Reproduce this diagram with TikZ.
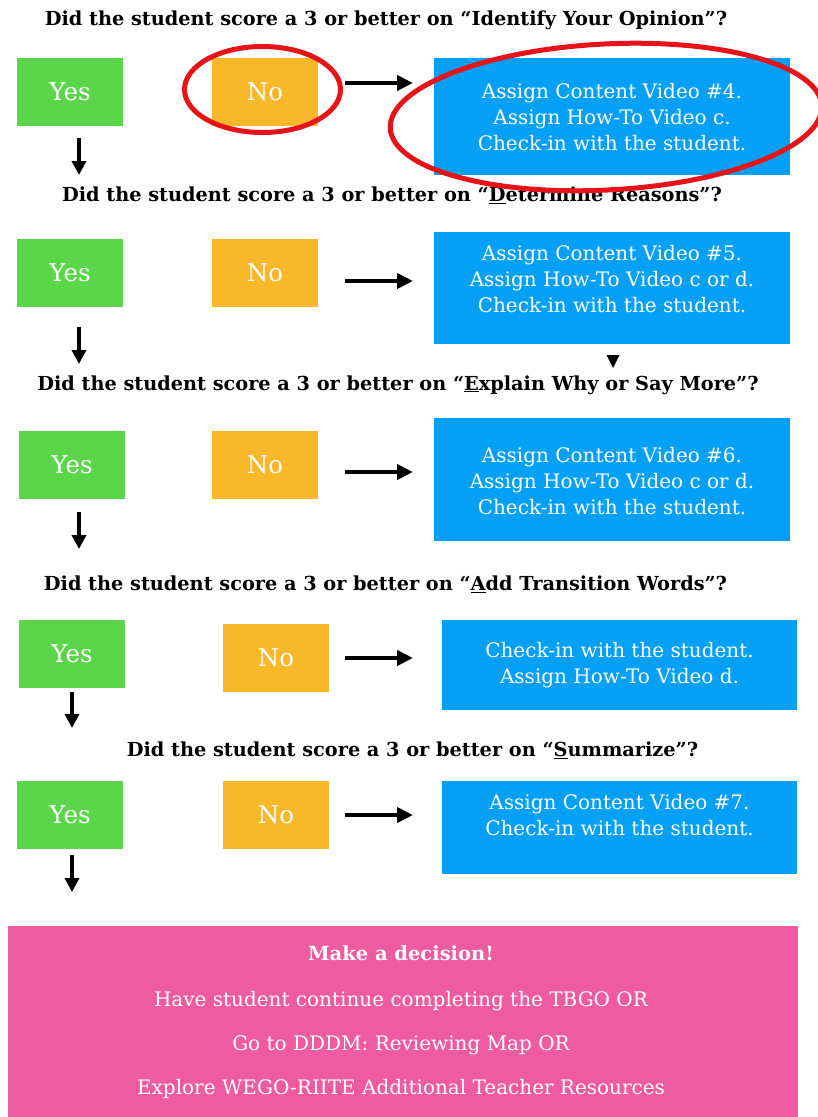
\documentclass[tikz,border=0pt]{standalone}
\usepackage{fontspec}
\setmainfont{DejaVu Serif}
\usetikzlibrary{arrows.meta,shapes.geometric}
\definecolor{yesgreen}{RGB}{91,214,74}
\definecolor{noorange}{RGB}{249,184,42}
\definecolor{actblue}{RGB}{4,160,246}
\definecolor{finalpink}{RGB}{239,91,161}
\definecolor{ringred}{RGB}{230,20,25}
\begin{document}
\begin{tikzpicture}[x=1pt,y=-1pt,
  yesbox/.style={fill=yesgreen, minimum width=106pt, minimum height=68pt, inner sep=0pt, text=white, font=\fontsize{24.5}{28}\selectfont},
  nobox/.style={fill=noorange, minimum width=106pt, minimum height=68pt, inner sep=0pt, text=white, font=\fontsize{24.5}{28}\selectfont},
  actbox/.style={fill=actblue, inner sep=0pt},
  acttext/.style={text=white, align=center, inner sep=0pt, font=\fontsize{20}{26}\selectfont},
  question/.style={inner sep=0pt, font=\bfseries\fontsize{19.3}{22}\selectfont},
  finaltext/.style={text=white, inner sep=0pt, font=\fontsize{20}{24}\selectfont},
  flowarrow/.style={line width=4pt, -{Triangle[length=16pt,width=15pt]}},
  downarrow/.style={line width=3.5pt, -{Triangle[length=14pt,width=14pt]}},
  ring/.style={draw=ringred, line width=5pt, ellipse, inner sep=0pt}
]
\useasboundingbox (0,0) rectangle (817,1117);
\fill[white] (0,0) rectangle (817,1117);

% questions
\node[question] (q1) at (386,20) {Did the student score a 3 or better on “Identify Your Opinion”?};
\node[question] (q2) at (392,195) {Did the student score a 3 or better on “\underline{D}etermine Reasons”?};
\node[question] (q3) at (398,385) {Did the student score a 3 or better on “\underline{E}xplain Why or Say More”?};
\node[question] (q4) at (385.5,584) {Did the student score a 3 or better on “\underline{A}dd Transition Words”?};
\node[question] (q5) at (412.5,750) {Did the student score a 3 or better on “\underline{S}ummarize”?};

% row 1
\node[yesbox] (yes1) at (70,92) {Yes};
\node[nobox] (no1) at (265,92) {No};
\node[actbox, minimum width=356pt, minimum height=117pt] (act1) at (612,116.5) {};
\node[acttext] (act1t) at (612,117.5) {Assign Content Video \#4.\\Assign How-To Video c.\\Check-in with the student.};
% row 2
\node[yesbox] (yes2) at (70,273) {Yes};
\node[nobox] (no2) at (265,273) {No};
\node[actbox, minimum width=356pt, minimum height=112pt] (act2) at (612,288) {};
\node[acttext] (act2t) at (612,279) {Assign Content Video \#5.\\Assign How-To Video c or d.\\Check-in with the student.};
% row 3
\node[yesbox] (yes3) at (72,464.5) {Yes};
\node[nobox] (no3) at (265,464.5) {No};
\node[actbox, minimum width=356pt, minimum height=123pt] (act3) at (612,479.5) {};
\node[acttext] (act3t) at (612,481) {Assign Content Video \#6.\\Assign How-To Video c or d.\\Check-in with the student.};
% row 4
\node[yesbox] (yes4) at (72,653.5) {Yes};
\node[nobox] (no4) at (276,658) {No};
\node[actbox, minimum width=355pt, minimum height=90pt] (act4) at (619.5,665) {};
\node[acttext] (act4t) at (619.5,665.5) {Check-in with the student.\\Assign How-To Video d.};
% row 5
\node[yesbox] (yes5) at (70,814.5) {Yes};
\node[nobox] (no5) at (276,814.5) {No};
\node[actbox, minimum width=355pt, minimum height=93pt] (act5) at (619.5,827.5) {};
\node[acttext] (act5t) at (619.5,815) {Assign Content Video \#7.\\Check-in with the student.};

% final
\node[fill=finalpink, minimum width=790pt, minimum height=191pt, inner sep=0pt] (final) at (403,1021.5) {};
\node[text=white, inner sep=0pt, font=\bfseries\fontsize{19.5}{22}\selectfont] (finalt) at (401,953) {Make a decision!};
\node[finaltext] (opt1) at (401,1001) {Have student continue completing the TBGO OR};
\node[finaltext] (opt2) at (401,1045) {Go to DDDM: Reviewing Map OR};
\node[finaltext] (opt3) at (401,1089) {Explore WEGO-RIITE Additional Teacher Resources};

% horizontal arrows
\coordinate (h1s) at (345,83);  \coordinate (h1e) at (413,83);
\coordinate (h2s) at (345,281); \coordinate (h2e) at (413,281);
\coordinate (h3s) at (345,472); \coordinate (h3e) at (413,472);
\coordinate (h4s) at (345,658); \coordinate (h4e) at (413,658);
\coordinate (h5s) at (345,815); \coordinate (h5e) at (413,815);
\foreach \i in {1,...,5} {\draw[flowarrow] (h\i s) -- (h\i e);}

% down arrows
\coordinate (d1s) at (79,138); \coordinate (d1e) at (79,175);
\coordinate (d2s) at (79,327); \coordinate (d2e) at (79,364);
\coordinate (d3s) at (79,512); \coordinate (d3e) at (79,549);
\coordinate (d4s) at (72,692); \coordinate (d4e) at (72,728);
\coordinate (d5s) at (72,855); \coordinate (d5e) at (72,892);
\foreach \i in {1,...,5} {\draw[downarrow] (d\i s) -- (d\i e);}

% small marker
\fill[black] (606.5,355) -- (619.5,355) -- (613,368) -- cycle;

% red rings
\node[ring, minimum width=156pt, minimum height=86pt] (ring1) at (262.5,89.5) {};
\node[ring, minimum width=432pt, minimum height=146pt, rotate=3] (ring2) at (606,117) {};
\end{tikzpicture}
\end{document}
